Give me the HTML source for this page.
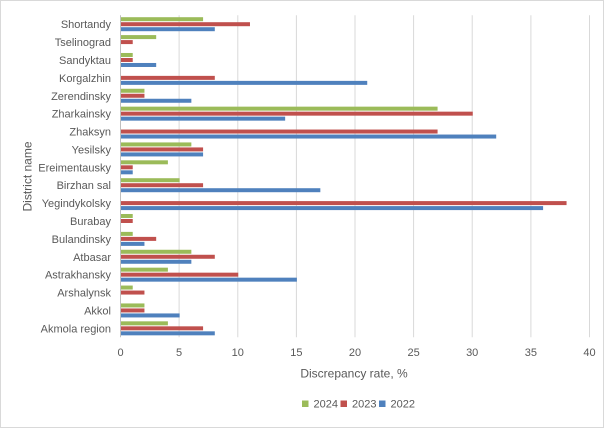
<!DOCTYPE html>
<html><head><meta charset="utf-8"><style>
html,body{margin:0;padding:0;background:#fff;}
svg{display:block;}
text{font-family:"Liberation Sans",sans-serif;fill:#595959;}
</style></head><body>
<svg width="604" height="428" viewBox="0 0 604 428" xmlns="http://www.w3.org/2000/svg">
<rect x="0.5" y="0.5" width="603" height="427" fill="#fff" stroke="#D9D9D9"/>
<g stroke="#D9D9D9" stroke-width="1">
<line x1="179.1" y1="15.3" x2="179.1" y2="337.2"/>
<line x1="237.8" y1="15.3" x2="237.8" y2="337.2"/>
<line x1="296.4" y1="15.3" x2="296.4" y2="337.2"/>
<line x1="355.0" y1="15.3" x2="355.0" y2="337.2"/>
<line x1="413.6" y1="15.3" x2="413.6" y2="337.2"/>
<line x1="472.2" y1="15.3" x2="472.2" y2="337.2"/>
<line x1="530.9" y1="15.3" x2="530.9" y2="337.2"/>
<line x1="589.5" y1="15.3" x2="589.5" y2="337.2"/>
</g>
<line x1="120.5" y1="15.3" x2="120.5" y2="337.2" stroke="#BFBFBF"/>
<g font-size="11" text-anchor="end">
<g transform="translate(0,24.2)"><text x="111" y="4">Shortandy</text><rect x="121" y="-7" width="82.08" height="4" fill="#9BBB59"/><rect x="121" y="-2" width="128.98" height="4" fill="#C0504D"/><rect x="121" y="3" width="93.8" height="4" fill="#4F81BD"/></g>
<g transform="translate(0,42.09)"><text x="111" y="4">Tselinograd</text><rect x="121" y="-7" width="35.18" height="4" fill="#9BBB59"/><rect x="121" y="-2" width="11.73" height="4" fill="#C0504D"/></g>
<g transform="translate(0,59.98)"><text x="111" y="4">Sandyktau</text><rect x="121" y="-7" width="11.73" height="4" fill="#9BBB59"/><rect x="121" y="-2" width="11.73" height="4" fill="#C0504D"/><rect x="121" y="3" width="35.18" height="4" fill="#4F81BD"/></g>
<g transform="translate(0,77.87)"><text x="111" y="4">Korgalzhin</text><rect x="121" y="-2" width="93.8" height="4" fill="#C0504D"/><rect x="121" y="3" width="246.23" height="4" fill="#4F81BD"/></g>
<g transform="translate(0,95.76)"><text x="111" y="4">Zerendinsky</text><rect x="121" y="-7" width="23.45" height="4" fill="#9BBB59"/><rect x="121" y="-2" width="23.45" height="4" fill="#C0504D"/><rect x="121" y="3" width="70.35" height="4" fill="#4F81BD"/></g>
<g transform="translate(0,113.65)"><text x="111" y="4">Zharkainsky</text><rect x="121" y="-7" width="316.58" height="4" fill="#9BBB59"/><rect x="121" y="-2" width="351.75" height="4" fill="#C0504D"/><rect x="121" y="3" width="164.15" height="4" fill="#4F81BD"/></g>
<g transform="translate(0,131.54)"><text x="111" y="4">Zhaksyn</text><rect x="121" y="-2" width="316.58" height="4" fill="#C0504D"/><rect x="121" y="3" width="375.2" height="4" fill="#4F81BD"/></g>
<g transform="translate(0,149.43)"><text x="111" y="4">Yesilsky</text><rect x="121" y="-7" width="70.35" height="4" fill="#9BBB59"/><rect x="121" y="-2" width="82.08" height="4" fill="#C0504D"/><rect x="121" y="3" width="82.08" height="4" fill="#4F81BD"/></g>
<g transform="translate(0,167.32)"><text x="111" y="4">Ereimentausky</text><rect x="121" y="-7" width="46.9" height="4" fill="#9BBB59"/><rect x="121" y="-2" width="11.73" height="4" fill="#C0504D"/><rect x="121" y="3" width="11.73" height="4" fill="#4F81BD"/></g>
<g transform="translate(0,185.21)"><text x="111" y="4">Birzhan sal</text><rect x="121" y="-7" width="58.63" height="4" fill="#9BBB59"/><rect x="121" y="-2" width="82.08" height="4" fill="#C0504D"/><rect x="121" y="3" width="199.33" height="4" fill="#4F81BD"/></g>
<g transform="translate(0,203.1)"><text x="111" y="4">Yegindykolsky</text><rect x="121" y="-2" width="445.55" height="4" fill="#C0504D"/><rect x="121" y="3" width="422.1" height="4" fill="#4F81BD"/></g>
<g transform="translate(0,220.99)"><text x="111" y="4">Burabay</text><rect x="121" y="-7" width="11.73" height="4" fill="#9BBB59"/><rect x="121" y="-2" width="11.73" height="4" fill="#C0504D"/></g>
<g transform="translate(0,238.88)"><text x="111" y="4">Bulandinsky</text><rect x="121" y="-7" width="11.73" height="4" fill="#9BBB59"/><rect x="121" y="-2" width="35.18" height="4" fill="#C0504D"/><rect x="121" y="3" width="23.45" height="4" fill="#4F81BD"/></g>
<g transform="translate(0,256.77)"><text x="111" y="4">Atbasar</text><rect x="121" y="-7" width="70.35" height="4" fill="#9BBB59"/><rect x="121" y="-2" width="93.8" height="4" fill="#C0504D"/><rect x="121" y="3" width="70.35" height="4" fill="#4F81BD"/></g>
<g transform="translate(0,274.66)"><text x="111" y="4">Astrakhansky</text><rect x="121" y="-7" width="46.9" height="4" fill="#9BBB59"/><rect x="121" y="-2" width="117.25" height="4" fill="#C0504D"/><rect x="121" y="3" width="175.88" height="4" fill="#4F81BD"/></g>
<g transform="translate(0,292.55)"><text x="111" y="4">Arshalynsk</text><rect x="121" y="-7" width="11.73" height="4" fill="#9BBB59"/><rect x="121" y="-2" width="23.45" height="4" fill="#C0504D"/></g>
<g transform="translate(0,310.44)"><text x="111" y="4">Akkol</text><rect x="121" y="-7" width="23.45" height="4" fill="#9BBB59"/><rect x="121" y="-2" width="23.45" height="4" fill="#C0504D"/><rect x="121" y="3" width="58.63" height="4" fill="#4F81BD"/></g>
<g transform="translate(0,328.33)"><text x="111" y="4">Akmola region</text><rect x="121" y="-7" width="46.9" height="4" fill="#9BBB59"/><rect x="121" y="-2" width="82.08" height="4" fill="#C0504D"/><rect x="121" y="3" width="93.8" height="4" fill="#4F81BD"/></g>
</g>
<g font-size="11" text-anchor="middle">
<text x="120.5" y="356">0</text>
<text x="179.1" y="356">5</text>
<text x="237.8" y="356">10</text>
<text x="296.4" y="356">15</text>
<text x="355.0" y="356">20</text>
<text x="413.6" y="356">25</text>
<text x="472.2" y="356">30</text>
<text x="530.9" y="356">35</text>
<text x="589.5" y="356">40</text>
</g>
<text x="354" y="377.5" font-size="12" text-anchor="middle">Discrepancy rate, %</text>
<text transform="translate(31.5,176.5) rotate(-90)" font-size="12" text-anchor="middle">District name</text>
<g font-size="11">
<rect x="302" y="400.5" width="6.5" height="6.5" fill="#9BBB59"/><text x="313.5" y="407.5">2024</text>
<rect x="340.5" y="400.5" width="6.5" height="6.5" fill="#C0504D"/><text x="352" y="407.5">2023</text>
<rect x="379" y="400.5" width="6.5" height="6.5" fill="#4F81BD"/><text x="390.5" y="407.5">2022</text>
</g>
</svg>
</body></html>
